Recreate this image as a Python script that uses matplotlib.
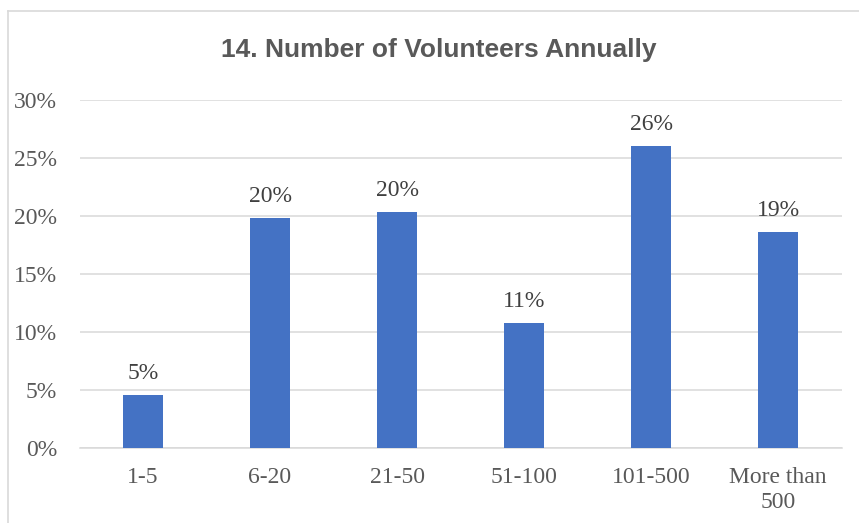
import matplotlib
matplotlib.use("Agg")
import matplotlib.pyplot as plt
from matplotlib.lines import Line2D

categories = ["1-5", "6-20", "21-50", "51-100", "101-500", "More than\n500"]
values = [4.52, 19.79, 20.34, 10.73, 26.0, 18.64]
yticks = [0, 5, 10, 15, 20, 25, 30]
title = "14. Number of Volunteers Annually"

W, H = 859, 523
fig = plt.figure(figsize=(W / 100, H / 100), dpi=100)
ax = fig.add_axes([79.5 / W, (H - 447.7) / H, (841.7 - 79.5) / W, (447.7 - 100) / H])

x = list(range(len(categories)))
ax.bar(x, values, width=0.315, color="#4472C4", zorder=3)

ax.set_xlim(-0.5, len(categories) - 0.5)
ax.set_ylim(0, 30)
ax.set_yticks(yticks)
ax.set_yticklabels([f"{t}%" for t in yticks])
ax.set_xticks(x)
ax.set_xticklabels(categories)

serif = ["Liberation Serif", "DejaVu Serif"]
for lbl in ax.get_yticklabels() + ax.get_xticklabels():
    lbl.set_fontfamily(serif)
    lbl.set_fontsize(17)
    lbl.set_color("#595959")
ax.tick_params(axis="y", length=0, pad=16)
ax.tick_params(axis="x", length=0, pad=14.2)
for lbl in ax.get_xticklabels():
    lbl.set_linespacing(1.25)

ax.grid(axis="y", color="#D9D9D9", linewidth=1.1, zorder=0)
ax.set_axisbelow(True)
for s in ["left", "right", "top"]:
    ax.spines[s].set_visible(False)
ax.spines["bottom"].set_color("#D9D9D9")
ax.spines["bottom"].set_linewidth(1.1)

for xi, v in zip(x, values):
    ax.annotate(f"{round(v):d}%", (xi, v), xytext=(0, 11.6), textcoords="offset points",
                ha="center", va="baseline", fontsize=17, family=serif, color="#404040")

fig.text(438.3 / W, 1 - 56.7 / H, title, ha="center", va="baseline", fontsize=19,
         fontweight="bold", family=["Liberation Sans", "DejaVu Sans"], color="#595959")

# chart border (partially cropped in reference)
fig.add_artist(Line2D([8 / W, 1.0], [1 - 11 / H, 1 - 11 / H], color="#D9D9D9", linewidth=1.2,
                      transform=fig.transFigure))
fig.add_artist(Line2D([8 / W, 8 / W], [0, 1 - 11 / H], color="#D9D9D9", linewidth=1.2,
                      transform=fig.transFigure))

fig.savefig("out.png", dpi=100)
